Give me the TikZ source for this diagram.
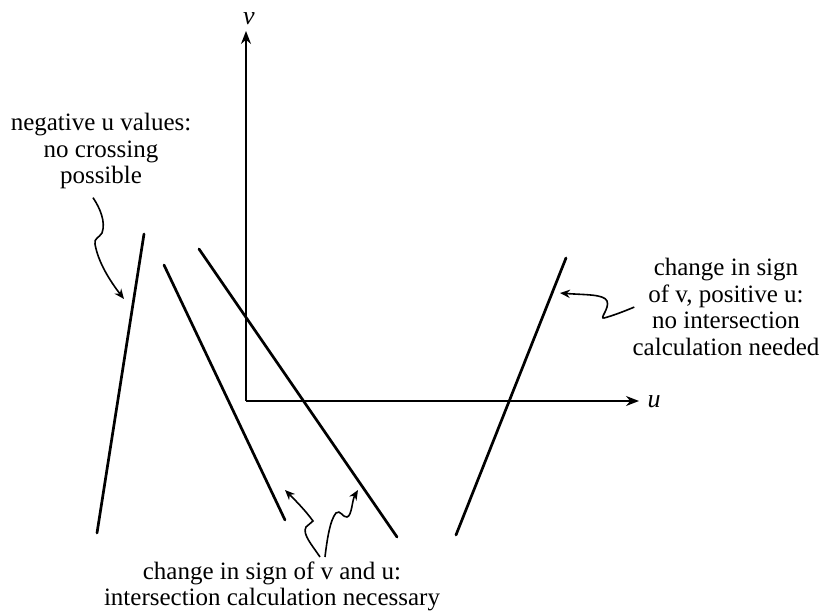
\documentclass[tikz,border=0pt]{standalone}
\usepackage{fontspec}
\setmainfont{Liberation Serif}
\usetikzlibrary{arrows.meta}

\begin{document}
\begin{tikzpicture}[x=0.5pt,y=-0.5pt,>={Stealth[length=6.5pt,width=5pt]},
  seg/.style={line width=1.35pt,line cap=round},
  axis/.style={line width=0.7pt,->},
  squig/.style={line width=0.8pt,->,>={Stealth[length=5pt,width=4.2pt]}},
  note/.style={align=center,inner sep=0pt,anchor=north,font=\fontsize{12.5}{13.3}\selectfont}]
\useasboundingbox (0,0) rectangle (821,614);
% axes
\coordinate (O) at (246,401);
\coordinate (vend) at (246,31);
\coordinate (uend) at (639,401);
\draw[axis] (O) -- (vend);
\draw[axis] (O) -- (uend);
\node[font=\fontsize{13}{13}\selectfont\itshape] (v) at (249,19) {v};
\node[font=\fontsize{13}{13}\selectfont\itshape] (u) at (654,402) {u};
% the four segments
\coordinate (a1) at (144,234); \coordinate (a2) at (97,533);
\coordinate (b1) at (164,265); \coordinate (b2) at (285,520);
\coordinate (c1) at (199,249); \coordinate (c2) at (397,537);
\coordinate (d1) at (566,258); \coordinate (d2) at (456,535);
\draw[seg] (a1)--(a2);
\draw[seg] (b1)--(b2);
\draw[seg] (c1)--(c2);
\draw[seg] (d1)--(d2);
% notes
\node[note] (neg) at (101,113) {negative u values:\\no crossing\\possible};
\node[note] (pos) at (726,258) {change in sign\\of v, positive u:\\no intersection\\calculation needed};
\node[note] (both) at (272,561) {change in sign of v and u:\\intersection calculation necessary};
% wiggly pointers
\draw[squig] ([xshift=-4pt,yshift=-4pt]neg.south) .. controls (100,208) and (106,222) .. (102,233)
  .. controls (99,238) and (94,238) .. (95,244) .. controls (98,262) and (110,281) .. (124,299);
\draw[squig] ([xshift=1pt]pos.west) .. controls (625,311) and (612,316) .. (604,318)
  .. controls (599,319) and (610,308) .. (607,301) .. controls (604,294) and (585,295) .. (560,293);
\draw[squig] ([xshift=24pt,yshift=2pt]both.north) .. controls (312,545) and (302,534) .. (306,527)
  -- (313,521) .. controls (305,510) and (295,500) .. (285,490);
\draw[squig] ([xshift=26.5pt,yshift=2pt]both.north) .. controls (327,540) and (330,520) .. (336,513)
  .. controls (340,509) and (343,518) .. (347,517) .. controls (352,516) and (352,500) .. (358,490);
\end{tikzpicture}
\end{document}
